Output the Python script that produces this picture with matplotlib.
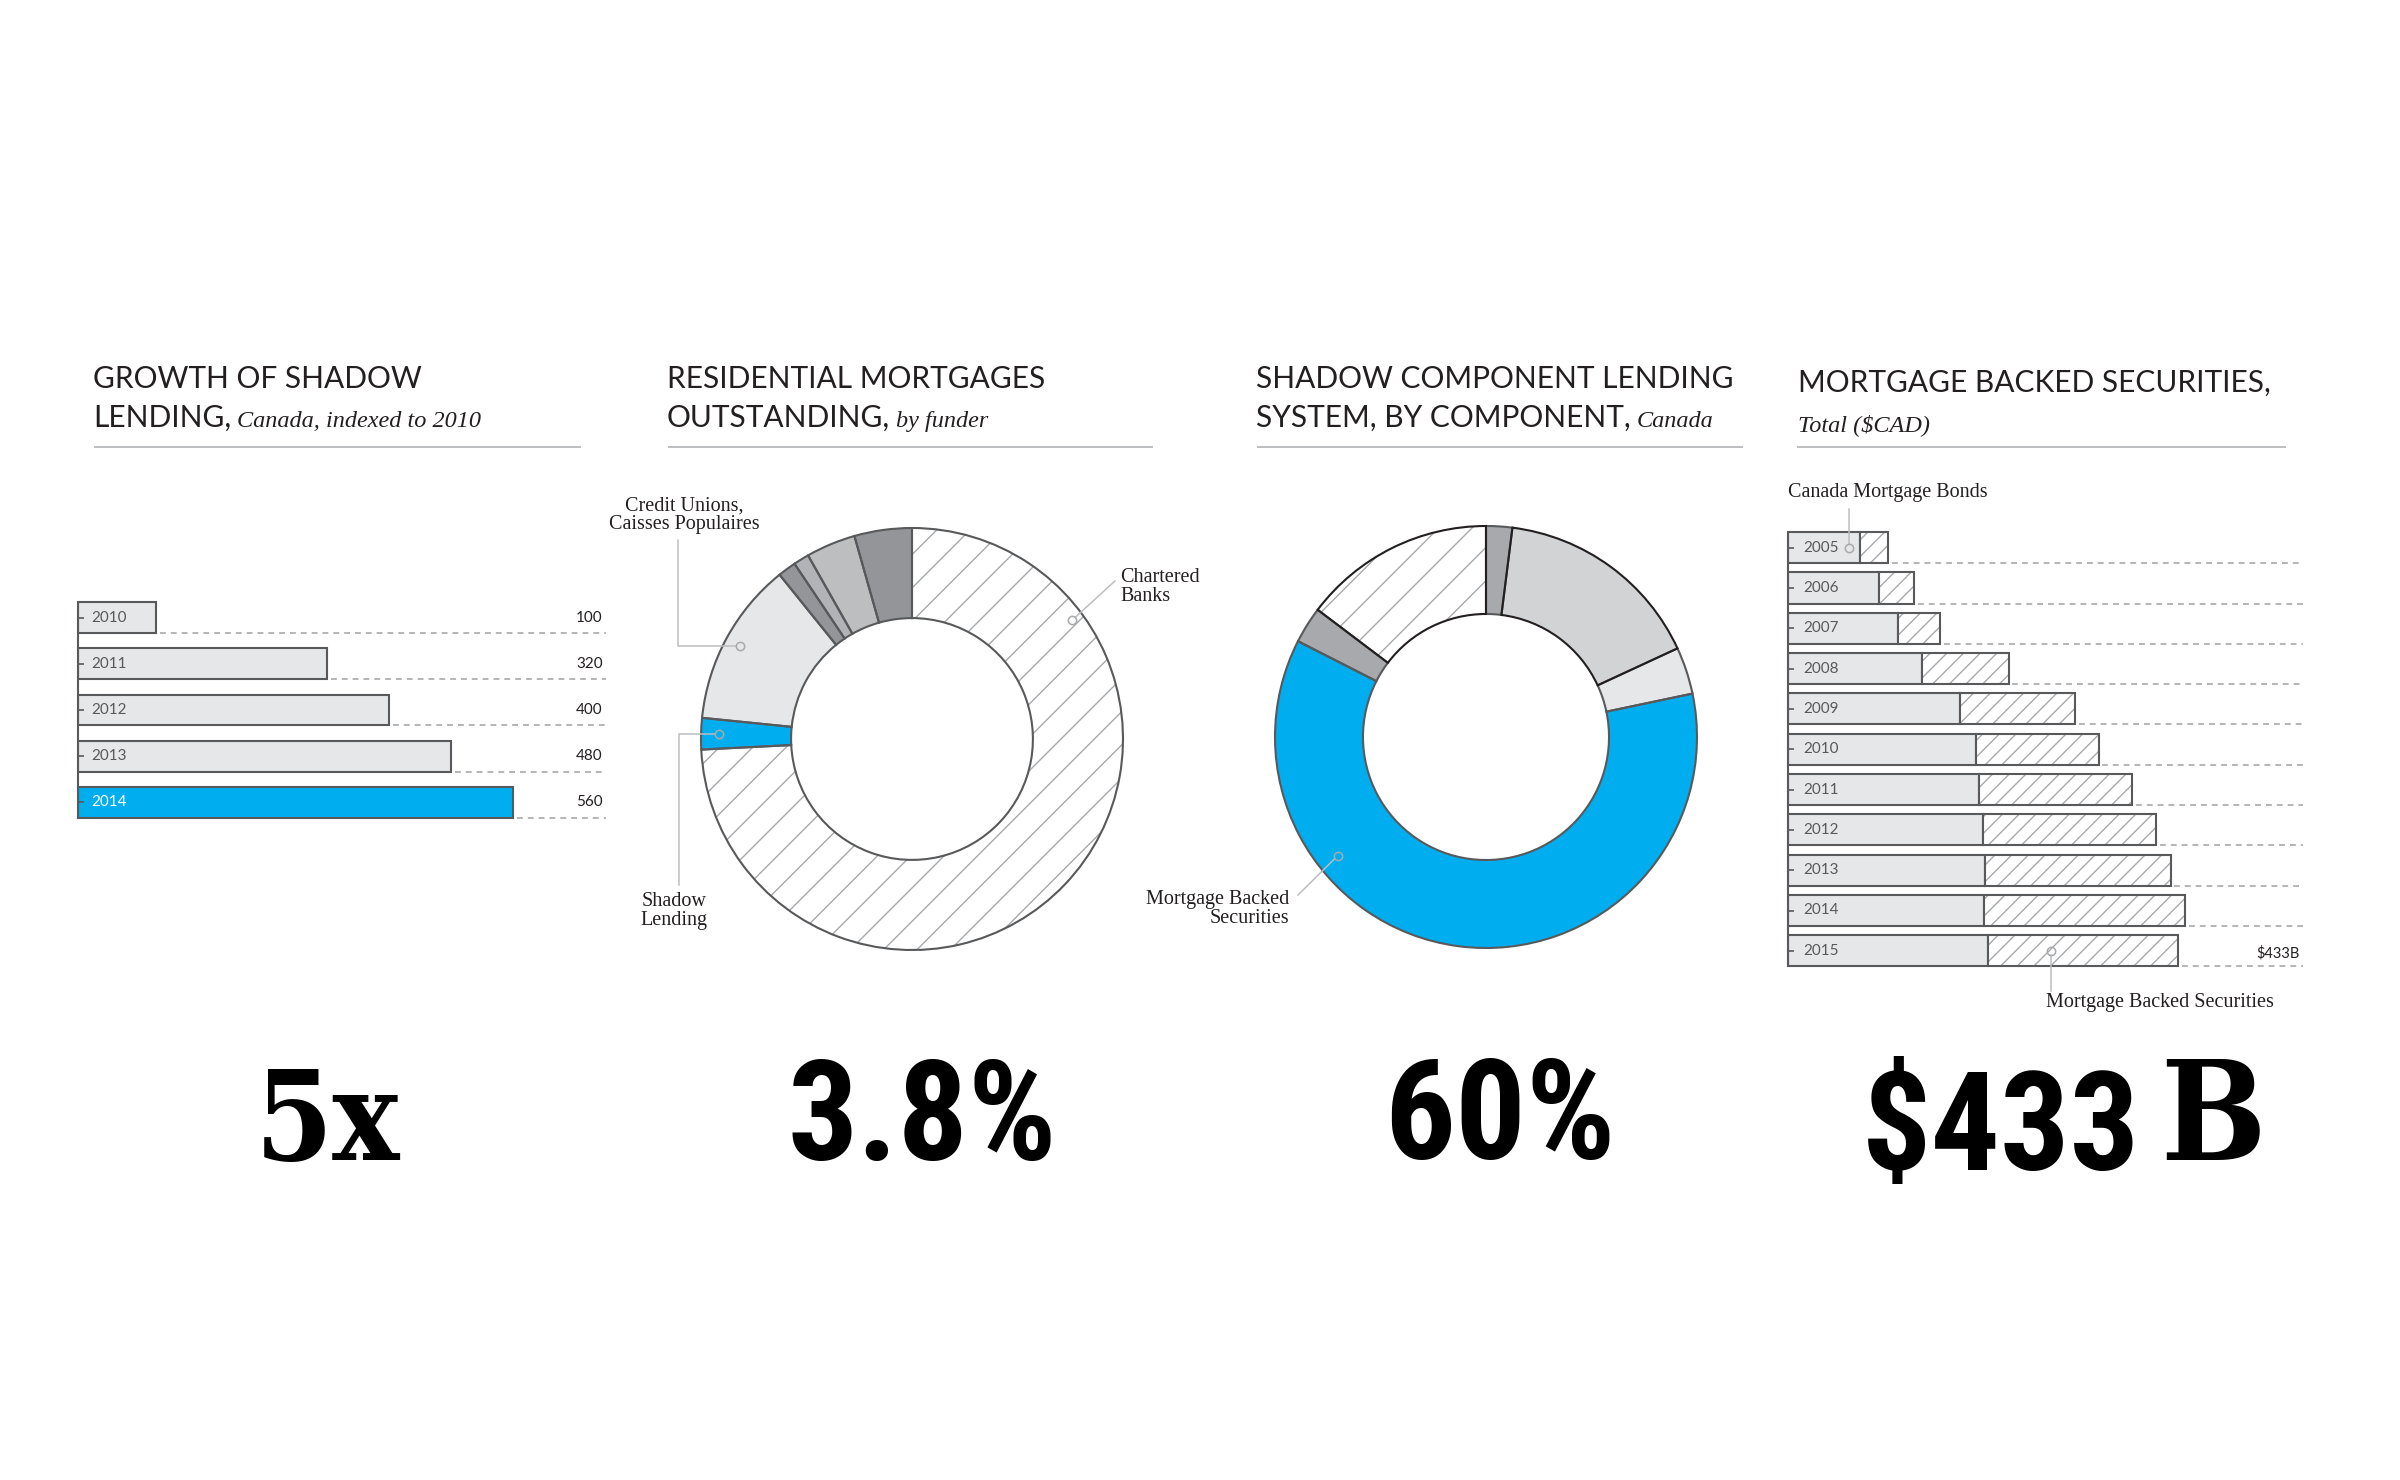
import os
import numpy as np
import matplotlib
matplotlib.use("Agg")
import matplotlib.pyplot as plt
from matplotlib import font_manager as fm
from matplotlib import transforms as mtrans
from matplotlib.lines import Line2D

# ------------------------------------------------------------------ data
growth_years = ["2010", "2011", "2012", "2013", "2014"]
growth_index = [100, 320, 400, 480, 560]

funder_names = ["Chartered Banks", "Shadow Lending", "Credit Unions, Caisses Populaires",
                "Other 1", "Other 2", "Other 3", "Other 4"]
funder_share = [74.2, 2.4, 12.6, 1.4, 1.2, 3.8, 4.4]

component_names = ["Component 1", "Component 2", "Component 3",
                   "Mortgage Backed Securities", "Component 4", "Chartered Banks"]
component_share = [2.0, 16.1, 3.6, 60.8, 2.8, 14.7]

mbs_years = ["2005", "2006", "2007", "2008", "2009", "2010",
             "2011", "2012", "2013", "2014", "2015"]
cmb_values = [80, 101, 122, 149, 191, 209, 212, 217, 219, 218, 222]
mbs_values = [31, 39, 47, 96, 128, 136, 170, 192, 206, 223, 211]

big_numbers = ["5x", "3.8%", "60%", "$433", "B"]

titles = [
    ("GROWTH OF SHADOW", "LENDING,", "Canada, indexed to 2010"),
    ("RESIDENTIAL MORTGAGES", "OUTSTANDING,", "by funder"),
    ("SHADOW COMPONENT LENDING", "SYSTEM, BY COMPONENT,", "Canada"),
    ("MORTGAGE BACKED SECURITIES,", "", "Total ($CAD)"),
]

# ------------------------------------------------------------------ style
W, H = 2400, 1480
BLUE = "#00aeef"
DARK = "#58595b"
BLACKISH = "#231f20"
LIGHT = "#e6e7e8"
HATCH = "#a7a9ac"
DASH = "#a7a9ac"
LEADER = "#bcbec0"
TITLE = "#231f20"
YEARTXT = "#58595b"

plt.rcParams["hatch.linewidth"] = 1.0


def find_font(names, fallback):
    files = [f.fname for f in fm.fontManager.ttflist]
    for n in names:
        for f in files:
            if os.path.basename(f).lower() == n.lower():
                return fm.FontProperties(fname=f)
    return fallback


cond_font = find_font(["RobotoCondensed-Bold.ttf", "Roboto-Condensed-Bold.ttf",
                       "RobotoCondensed-Bold.otf", "LiberationSansNarrow-Bold.ttf",
                       "NotoSans-CondensedBold.ttf", "OpenSans-CondensedBold.ttf",
                       "OpenSans_Condensed-Bold.ttf", "DejaVuSansCondensed-Bold.ttf"],
                      fm.FontProperties(family="DejaVu Sans", weight="bold"))
slab_font = find_font(["DejaVuSerifCondensed-Bold.ttf"],
                      fm.FontProperties(family="DejaVu Serif", weight="bold"))

SANS = ["Lato", "DejaVu Sans"]
SERIF = ["Liberation Serif", "DejaVu Serif"]
LBL = 14.5

fig = plt.figure(figsize=(W / 100, H / 100), dpi=100)
fig.patch.set_facecolor("white")
renderer = fig.canvas.get_renderer()


def px_axes(l, t, r, b):
    return fig.add_axes([l / W, 1 - b / H, (r - l) / W, (b - t) / H])


def ftext(x, y, s, **kw):
    return fig.text(x / W, 1 - y / H, s, **kw)


# ------------------------------------------------------------------ titles
title_x = [93, 667, 1256, 1798]
ul = [(95, 580), (669, 1152), (1258, 1742), (1798, 2285)]
for i, (l1, l2, it) in enumerate(titles):
    x = title_x[i]
    b1, b2 = (388, 427) if i < 3 else (392, 431)
    ftext(x, b1, l1, family=SANS, fontsize=21.5, color=TITLE, va="baseline")
    nx = x
    if l2:
        t = ftext(x, b2, l2, family=SANS, fontsize=21.5, color=TITLE, va="baseline")
        bb = t.get_window_extent(renderer)
        nx = bb.x1 + 6
    ftext(nx, b2, it, family=SERIF, style="italic", fontsize=17.5, color=TITLE, va="baseline")
    fig.add_artist(Line2D([ul[i][0] / W, ul[i][1] / W], [1 - 447 / H] * 2,
                          transform=fig.transFigure, color=LEADER, lw=1.4))


def style_bar_axes(ax, n, half):
    for s in ["top", "right", "bottom"]:
        ax.spines[s].set_visible(False)
    ax.spines["left"].set_bounds(-half, n - 1 + half)
    ax.spines["left"].set_color(DARK)
    ax.spines["left"].set_linewidth(1.5)
    ax.set_xticks([])
    ax.set_yticks(np.arange(n))
    ax.tick_params(axis="y", direction="in", length=4.5, width=1.2, color=DARK,
                   labelleft=False)
    ax.patch.set_alpha(0)


# ------------------------------------------------------------------ panel 1
ax1 = px_axes(78, 590, 606, 830)
n1 = len(growth_years)
y1 = np.arange(n1)
xmax1 = 528 / 0.777
ax1.set_xlim(0, xmax1)
ax1.set_ylim(n1 - 0.4, -0.6)
h1 = 0.67
cols1 = [LIGHT] * (n1 - 1) + [BLUE]
ax1.barh(y1, growth_index, height=h1, color=cols1, edgecolor=DARK, linewidth=1.5)
blend1 = mtrans.blended_transform_factory(ax1.transAxes, ax1.transData)
for i, (yr, v) in enumerate(zip(growth_years, growth_index)):
    ax1.hlines(i + h1 / 2, v + 5, xmax1, colors=DASH, linestyles=(0, (3.5, 3)), lw=1.2)
    ax1.text(0.994, i, str(v), transform=blend1, ha="right", va="center",
             family=SANS, fontsize=11, color=BLACKISH)
    ax1.text(17, i, yr, ha="left", va="center", family=SANS, fontsize=11,
             color="white" if i == n1 - 1 else YEARTXT)
style_bar_axes(ax1, n1, h1 / 2)


# ------------------------------------------------------------------ donut helpers
def donut(ax, shares, faces, hatches, edges, width):
    fills, _ = ax.pie(shares, startangle=90, counterclock=False, colors=faces,
                      radius=1, wedgeprops=dict(width=width, linewidth=0, edgecolor=HATCH))
    for w, h in zip(fills, hatches):
        if h:
            w.set_hatch(h)
    outl, _ = ax.pie(shares, startangle=90, counterclock=False, colors=faces,
                     radius=1, wedgeprops=dict(width=width, linewidth=1.5, fill=False))
    for k, (w, e) in enumerate(zip(outl, edges)):
        w.set_edgecolor(e)
        w.set_zorder(3 if e == BLACKISH else 2)
    ax.set_xlim(-1.25, 1.25)
    ax.set_ylim(-1.25, 1.25)
    ax.set_aspect("equal")
    ax.axis("off")
    return fills


def anchor(w, frac, r):
    a = np.deg2rad(w.theta2 - frac * (w.theta2 - w.theta1))
    return r * np.cos(a), r * np.sin(a)


CR = 0.02  # marker radius in data units


def leader(ax, pts):
    pts = np.array(pts, dtype=float)
    p, q = pts[-2], pts[-1].copy()
    d = q - p
    d = d / np.hypot(*d)
    pts[-1] = q - d * CR
    ax.plot(pts[:, 0], pts[:, 1], color=LEADER, lw=1.1, clip_on=False, zorder=5)
    ax.plot([q[0]], [q[1]], "o", ms=6, mfc="none", mec=HATCH, mew=1.1,
            clip_on=False, zorder=6)


def px_square(cx, cy, r):
    s = 1.25 * r
    return px_axes(cx - s, cy - s, cx + s, cy + s)


# ------------------------------------------------------------------ panel 2
ax2 = px_square(912, 739, 211)
faces2 = ["white", BLUE, LIGHT, "#939598", "#b1b3b6", "#bcbec0", "#939598"]
hatch2 = ["/", None, None, None, None, None, None]
edges2 = [DARK] * len(funder_share)
w2 = donut(ax2, funder_share, faces2, hatch2, edges2, 0.427)

cx, cy = anchor(w2[2], 0.5, 0.925)
ax2.text(-1.081, 1.062, "Credit Unions,\nCaisses Populaires", ha="center", va="center",
         family=SERIF, fontsize=LBL, linespacing=0.95, color=BLACKISH)
leader(ax2, [(-1.109, 0.943), (-1.109, cy), (cx, cy)])
cx, cy = anchor(w2[0], 0.2, 0.946)
ax2.text(0.986, 0.72, "Chartered\nBanks", ha="left", va="center",
         family=SERIF, fontsize=LBL, linespacing=0.95, color=BLACKISH)
leader(ax2, [(0.962, 0.749), (cx, cy)])
cx, cy = anchor(w2[1], 0.5, 0.915)
ax2.text(-1.126, -0.815, "Shadow\nLending", ha="center", va="center",
         family=SERIF, fontsize=LBL, linespacing=0.95, color=BLACKISH)
leader(ax2, [(-1.104, -0.692), (-1.104, cy), (cx, cy)])

# ------------------------------------------------------------------ panel 3
ax3 = px_square(1486, 737, 211)
faces3 = ["#a7a9ac", "#d1d3d4", LIGHT, BLUE, "#a7a9ac", "white"]
hatch3 = [None, None, None, None, None, "/"]
edges3 = [DARK, BLACKISH, DARK, DARK, DARK, BLACKISH]
w3 = donut(ax3, component_share, faces3, hatch3, edges3, 0.417)
cx, cy = anchor(w3[3], 0.70, 0.90)
ax3.text(-0.934, -0.815, "Mortgage Backed\nSecurities", ha="right", va="center",
         family=SERIF, fontsize=LBL, linespacing=0.95, color=BLACKISH)
leader(ax3, [(-0.891, -0.749), (cx, cy)])

# ------------------------------------------------------------------ panel 4
ax4 = px_axes(1788, 523.5, 2303, 975)
n4 = len(mbs_years)
y4 = np.arange(n4)
xmax4 = 515 / 0.9005
ax4.set_xlim(0, xmax4)
ax4.set_ylim(n4 - 0.4, -0.6)
h4 = 0.77
cmb = np.array(cmb_values)
mbs = np.array(mbs_values)
total = cmb + mbs
ax4.barh(y4, cmb, height=h4, color=LIGHT, edgecolor=DARK, linewidth=1.5)
ax4.barh(y4, mbs, left=cmb, height=h4, color="white", edgecolor=HATCH,
         linewidth=0, hatch="//")
ax4.barh(y4, mbs, left=cmb, height=h4, fill=False, edgecolor=DARK, linewidth=1.5)
blend4 = mtrans.blended_transform_factory(ax4.transAxes, ax4.transData)
for i, yr in enumerate(mbs_years):
    ax4.hlines(i + h4 / 2, total[i] + 4, xmax4, colors=DASH,
               linestyles=(0, (3.5, 3)), lw=1.2)
    ax4.text(16.7, i, yr, ha="left", va="center", family=SANS, fontsize=11,
             color=YEARTXT)
ax4.text(0.994, n4 - 1 + 0.07, f"${total[-1]}B", transform=blend4, ha="right",
         va="center", family=SANS, fontsize=10.5, color=BLACKISH)
style_bar_axes(ax4, n4, h4 / 2)

mx = 0.84 * cmb[0]
ax4.text(0, -1.37, "Canada Mortgage Bonds", ha="left", va="center",
         family=SERIF, fontsize=LBL, color=BLACKISH)
ax4.plot([mx, mx], [-0.96, -0.1], color=LEADER, lw=1.1, clip_on=False, zorder=5)
ax4.plot([mx], [0], "o", ms=6, mfc="none", mec=HATCH, mew=1.1, clip_on=False, zorder=6)
mx2 = cmb[-1] + 0.33 * mbs[-1]
ax4.text(mx2 - 5.5, n4 - 1 + 1.27, "Mortgage Backed Securities", ha="left",
         va="center", family=SERIF, fontsize=LBL, color=BLACKISH)
ax4.plot([mx2, mx2], [n4 - 1 + 0.1, n4 - 1 + 1.0], color=LEADER, lw=1.1,
         clip_on=False, zorder=5)
ax4.plot([mx2], [n4 - 1], "o", ms=6, mfc="none", mec=HATCH, mew=1.1,
         clip_on=False, zorder=6)

# ------------------------------------------------------------------ big numbers
ftext(327, 1160, big_numbers[0], fontproperties=slab_font, fontsize=90,
      ha="center", va="baseline", color="black")
ftext(922, 1160, big_numbers[1], fontproperties=cond_font, fontsize=100,
      ha="center", va="baseline", color="black")
ftext(1500, 1159, big_numbers[2], fontproperties=cond_font, fontsize=101,
      ha="center", va="baseline", color="black")
ftext(2140, 1170, big_numbers[3], fontproperties=cond_font, fontsize=99,
      ha="right", va="baseline", color="black")
ftext(2160, 1160, big_numbers[4], fontproperties=slab_font, fontsize=100,
      ha="left", va="baseline", color="black")

fig.savefig("out.png", dpi=100, facecolor="white")
